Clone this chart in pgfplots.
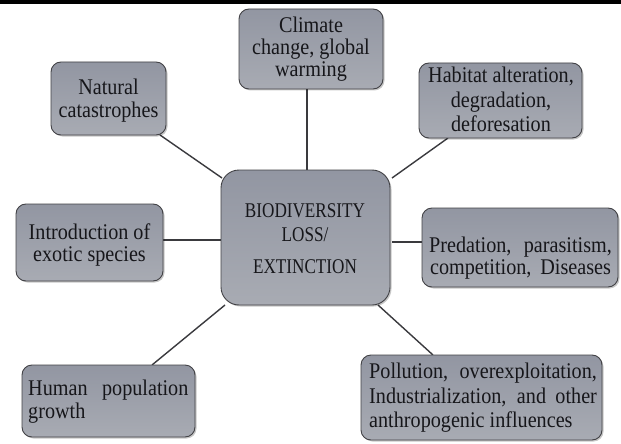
\documentclass[border=0pt]{standalone}
\usepackage{pgfplots}
\pgfplotsset{compat=1.18}
\usepackage{fontspec}
\setmainfont{Liberation Serif}
\definecolor{boxtop}{RGB}{146,150,162}
\definecolor{boxbot}{RGB}{168,171,179}
\definecolor{edge}{RGB}{66,66,70}
\definecolor{link}{RGB}{58,58,62}
\definecolor{ink}{RGB}{22,22,26}
\newcommand{\bx}[5]{%
  \fill[black,opacity=0.22,rounded corners=#5]
    ([shift={(1.5bp,-1.5bp)}]axis cs:#1,#2) rectangle ([shift={(1.5bp,-1.5bp)}]axis cs:#3,#4);
  \shade[top color=boxtop,bottom color=boxbot,rounded corners=#5]
    (axis cs:#1,#2) rectangle (axis cs:#3,#4);
  \draw[edge,line width=0.9bp,rounded corners=#5]
    (axis cs:#1,#2) rectangle (axis cs:#3,#4);}
\newcommand{\tx}[3]{\node[anchor=base,inner sep=0pt,text=ink,font=\fontsize{22.5}{24}\selectfont] at (axis cs:#1,#2) {\scalebox{0.9}[1]{#3}};}
\newcommand{\tl}[3]{\node[anchor=base west,inner sep=0pt,text=ink,font=\fontsize{22.5}{24}\selectfont] at (axis cs:#1,#2) {\scalebox{0.9}[1]{#3}};}
\newcommand{\tc}[3]{\node[anchor=base,inner sep=0pt,text=ink,font=\fontsize{21}{24}\selectfont] at (axis cs:#1,#2) {\scalebox{0.82}[1]{#3}};}
\begin{document}
\begin{tikzpicture}
\begin{axis}[width=621bp,height=444bp,scale only axis,
  xmin=0,xmax=621,ymin=0,ymax=444,y dir=reverse,hide axis,clip=false]
\fill[white] (axis cs:0,0) rectangle (axis cs:621,444);
\fill[black] (axis cs:0,0) rectangle (axis cs:621,4.5);
% connectors
\addplot[link,line width=1.4bp] coordinates {(160,135) (222,178)};
\addplot[link,line width=1.4bp] coordinates {(307,89) (307,170)};
\addplot[link,line width=1.4bp] coordinates {(448,138) (392,178)};
\addplot[link,line width=1.4bp] coordinates {(163,240) (221,240)};
\addplot[link,line width=1.4bp] coordinates {(392,242) (422,242)};
\addplot[link,line width=1.4bp] coordinates {(152,365) (225,305)};
\addplot[link,line width=1.4bp] coordinates {(433,355) (378,305)};
% boxes
\bx{239}{9}{383}{89}{10bp}
\bx{51}{62}{166}{135}{10bp}
\bx{419}{63}{582}{138}{10bp}
\bx{16}{204}{163}{281}{10bp}
\bx{422}{208}{618}{287}{10bp}
\bx{22}{365}{195}{437}{10bp}
\bx{361}{355}{602}{440}{10bp}
\bx{221}{170}{390}{305}{18bp}
% texts
\tx{311}{33}{Climate}
\tx{311}{55}{change, global}
\tx{311}{77}{warming}
\tx{108.5}{94}{Natural}
\tx{108.5}{117}{catastrophes}
\tx{501}{83}{Habitat alteration,}
\tx{501}{107}{degradation,}
\tx{501}{131}{deforesation}
\tx{89.5}{239}{Introduction of}
\tx{89.5}{261}{exotic species}
\tx{520.5}{252}{\makebox[203bp][s]{Predation, parasitism,}}
\tx{520.5}{274}{\makebox[201bp][s]{competition, Diseases}}
\tl{28}{395}{\makebox[178bp][s]{Human population}}
\tl{28}{418}{growth}
\tl{369}{378}{\makebox[253bp][s]{Pollution, overexploitation,}}
\tl{369}{403}{\makebox[253bp][s]{Industrialization, and other}}
\tl{369}{427}{anthropogenic influences}
\tc{305}{217}{BIODIVERSITY}
\tc{305}{241}{LOSS/}
\tc{305}{273}{EXTINCTION}
\addplot[draw=none] coordinates {(0,0) (621,444)};
\end{axis}
\end{tikzpicture}
\end{document}
